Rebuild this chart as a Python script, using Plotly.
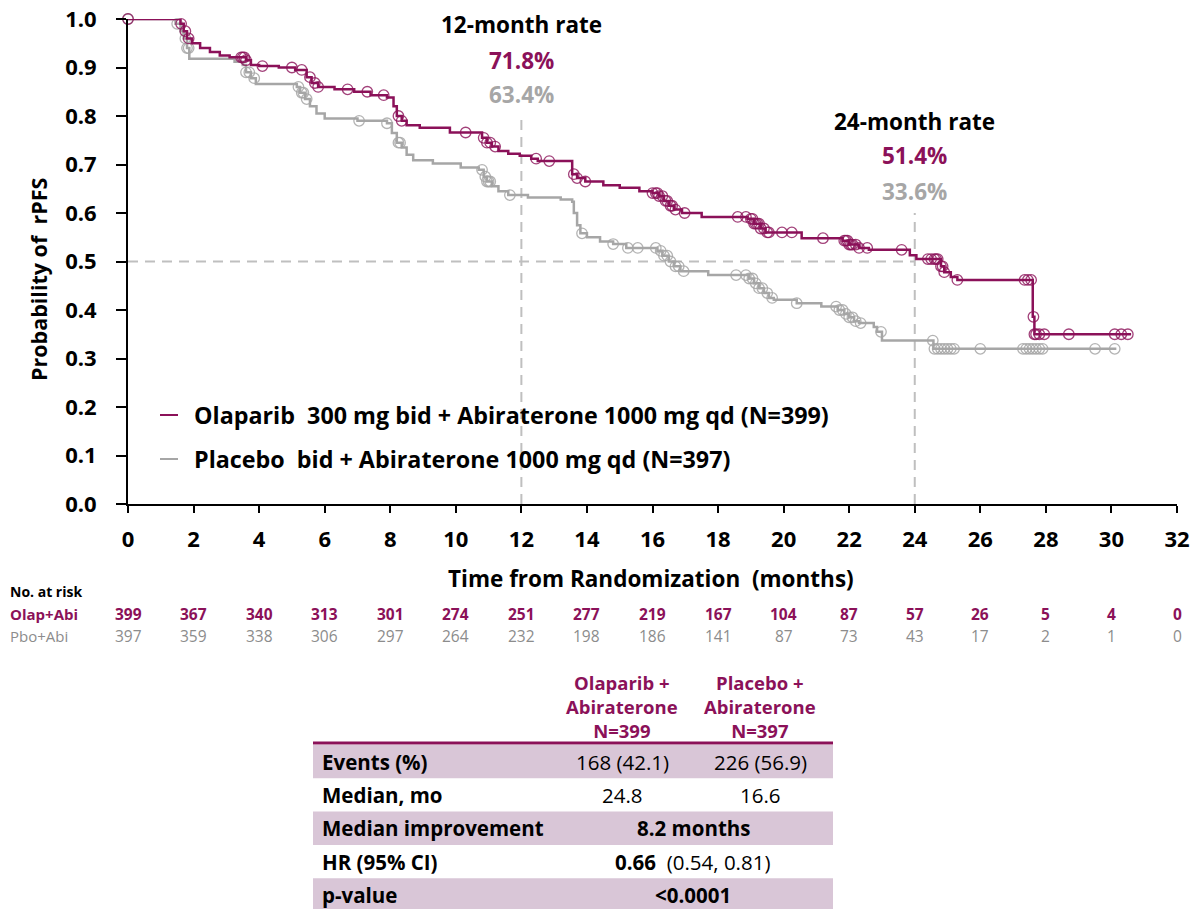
import numpy as np
import plotly.graph_objects as go

PURPLE = "#8B1159"
GRAY = "#A6A6A6"
RISKGRAY = "#8C8C8C"
DASH = "#BFBFBF"
SHADE = "#D9C6D7"
FONT = "Open Sans"
W, H = 1201, 909

# ---------------- Kaplan-Meier data ----------------
ola_t = [0, 1.6, 1.7, 1.8, 1.95, 2.2, 2.5, 2.8, 3.1, 3.6, 3.75, 4.0, 4.6, 5.1, 5.45, 5.6, 5.8,
         6.3, 6.9, 7.4, 7.9, 8.1, 8.2, 8.35, 8.5, 8.9, 9.82, 10.8, 10.95, 11.1, 11.3, 11.6,
         11.95, 12.3, 12.5, 13.55, 13.7, 13.95, 14.5, 15.0, 15.6, 16.0, 16.2, 16.35, 16.5,
         16.65, 16.9, 17.5, 18.9, 19.1, 19.3, 19.45, 20.55, 21.8, 22.0, 22.3, 22.6, 23.85,
         24.05, 24.8, 24.9, 25.1, 25.3, 27.6, 27.65]
ola_s = [1.0, 0.99, 0.975, 0.96, 0.95, 0.94, 0.932, 0.925, 0.921, 0.915, 0.905, 0.903, 0.900,
         0.895, 0.88, 0.868, 0.860, 0.855, 0.850, 0.843, 0.838, 0.82, 0.80, 0.79, 0.781, 0.776,
         0.766, 0.755, 0.745, 0.737, 0.728, 0.722, 0.718, 0.712, 0.707, 0.68, 0.672, 0.665,
         0.657, 0.652, 0.645, 0.641, 0.635, 0.625, 0.615, 0.607, 0.600, 0.592, 0.588, 0.578,
         0.568, 0.560, 0.548, 0.543, 0.535, 0.528, 0.524, 0.513, 0.505, 0.49, 0.478, 0.468,
         0.462, 0.386, 0.35]
ola_end = 30.6
ola_cens = [0, 1.62, 1.75, 1.85, 3.45, 3.5, 3.55, 3.6, 4.1, 5.0, 5.3, 5.55, 5.7, 5.8, 6.7, 7.3,
            7.8, 8.25, 8.35, 10.3, 10.85, 10.95, 11.05, 11.2, 12.45, 12.85, 13.6, 13.7, 13.95,
            16.0, 16.1, 16.15, 16.2, 16.3, 16.4, 16.45, 16.55, 16.6, 16.7, 16.98, 18.6, 18.85,
            19.0, 19.05, 19.1, 19.15, 19.2, 19.25, 19.3, 19.4, 19.5, 19.55, 19.95, 20.25, 21.2,
            21.85, 21.9, 21.95, 22.0, 22.05, 22.1, 22.2, 22.3, 22.55, 23.6, 24.4, 24.5, 24.6,
            24.65, 24.7, 24.8, 24.85, 24.9, 25.3, 27.35, 27.45, 27.55, 27.62, 27.65, 27.7, 27.8,
            27.95, 28.7, 30.1, 30.3, 30.5]

pbo_t = [0, 1.45, 1.6, 1.7, 1.8, 1.87, 3.25, 3.5, 3.6, 3.75, 3.9, 5.15, 5.25, 5.4, 5.55, 5.75,
         6.0, 7.0, 7.9, 8.05, 8.2, 8.35, 8.5, 8.7, 9.3, 10.15, 10.7, 10.85, 10.95, 11.1, 11.3,
         11.6, 12.2, 13.2, 13.55, 13.6, 13.7, 13.8, 14.0, 14.4, 14.8, 15.2, 16.15, 16.3, 16.5,
         16.65, 16.85, 17.7, 18.95, 19.1, 19.25, 19.4, 19.55, 19.7, 20.4, 21.15, 21.65, 21.85,
         22.0, 22.15, 22.3, 22.75, 22.85, 23.0, 24.57]
pbo_s = [1.0, 0.99, 0.975, 0.96, 0.94, 0.918, 0.912, 0.905, 0.89, 0.878, 0.866, 0.86, 0.848,
         0.835, 0.82, 0.805, 0.795, 0.79, 0.785, 0.765, 0.745, 0.735, 0.72, 0.709, 0.702, 0.694,
         0.689, 0.675, 0.665, 0.655, 0.645, 0.637, 0.632, 0.628, 0.623, 0.60, 0.575, 0.558,
         0.55, 0.541, 0.536, 0.528, 0.522, 0.512, 0.50, 0.49, 0.48, 0.472, 0.465, 0.455, 0.445,
         0.435, 0.425, 0.421, 0.414, 0.407, 0.40, 0.392, 0.385, 0.377, 0.373, 0.365, 0.355,
         0.337, 0.32]
pbo_end = 30.15
pbo_cens = [0, 1.5, 1.75, 1.8, 1.85, 3.6, 3.7, 3.85, 5.2, 5.3, 5.35, 5.45, 7.05, 7.9, 8.25, 8.3,
            10.8, 10.9, 10.95, 11.0, 11.05, 11.65, 13.85, 14.8, 15.25, 15.55, 16.1, 16.25,
            16.35, 16.45, 16.55, 16.7, 16.8, 16.95, 18.55, 18.85, 18.95, 19.05, 19.15, 19.25,
            19.35, 19.5, 19.65, 20.4, 21.6, 21.7, 21.8, 21.9, 22.0, 22.1, 22.2, 22.35, 22.97,
            24.55, 24.6, 24.7, 24.8, 24.9, 25.0, 25.1, 25.2, 26.0, 27.3, 27.4, 27.5, 27.6,
            27.7, 27.8, 27.9, 29.5, 30.1]

# reference lines and landmark rates
median_level = 0.5
landmark_times = [12, 24]
landmark_tops = [0.8, 0.6]
landmark_titles = ["12-month rate", "24-month rate"]
ola_rates = ["71.8%", "51.4%"]
pbo_rates = ["63.4%", "33.6%"]

legend_labels = ["Olaparib  300 mg bid + Abiraterone 1000 mg qd (N=399)",
                 "Placebo  bid + Abiraterone 1000 mg qd (N=397)"]

# number at risk
risk_times = list(range(0, 33, 2))
ola_risk = [399, 367, 340, 313, 301, 274, 251, 277, 219, 167, 104, 87, 57, 26, 5, 4, 0]
pbo_risk = [397, 359, 338, 306, 297, 264, 232, 198, 186, 141, 87, 73, 43, 17, 2, 1, 0]

# summary table
tbl_header = ["Olaparib +<br>Abiraterone<br>N=399", "Placebo +<br>Abiraterone<br>N=397"]
tbl_labels = ["Events (%)", "Median, mo", "Median improvement", "HR (95% CI)", "p-value"]
tbl_ola = ["168 (42.1)", "24.8"]
tbl_pbo = ["226 (56.9)", "16.6"]
tbl_merged = ["<b>8.2 months</b>", "<b>0.66</b>  (0.54, 0.81)", "<b>&lt;0.0001</b>"]


def surv_at(times, surv, t):
    idx = np.searchsorted(np.array(times), np.array(t), side="right") - 1
    return np.array(surv)[idx]


def px(x):
    return x / W


def py(y):
    return 1 - y / H


def text(x, y, s, size, color="black", xanchor="center", xref="paper"):
    return dict(x=x, y=py(y), xref=xref, yref="paper", text=s, showarrow=False,
                xanchor=xanchor, yanchor="middle",
                font=dict(size=size, color=color, family=FONT))


fig = go.Figure()

# dashed reference lines
fig.add_trace(go.Scatter(x=[0, landmark_times[1]], y=[median_level, median_level], mode="lines",
                         line=dict(color=DASH, width=2, dash="10px,7px"), hoverinfo="skip",
                         showlegend=False))
for t, top in zip(landmark_times, landmark_tops):
    fig.add_trace(go.Scatter(x=[t, t], y=[0, top], mode="lines",
                             line=dict(color=DASH, width=2, dash="10px,7px"), hoverinfo="skip",
                             showlegend=False))

for times, surv, end, cens, col, rgba in [
    (pbo_t, pbo_s, pbo_end, pbo_cens, GRAY, "rgba(166,166,166,0.85)"),
    (ola_t, ola_s, ola_end, ola_cens, PURPLE, "rgba(139,17,89,0.8)"),
]:
    fig.add_trace(go.Scatter(x=times + [end], y=surv + [surv[-1]], mode="lines",
                             line=dict(color=col, width=2.5, shape="hv"), showlegend=False,
                             cliponaxis=False))
    fig.add_trace(go.Scatter(x=cens, y=surv_at(times, surv, cens), mode="markers",
                             marker=dict(symbol="circle-open", size=10.5, color=rgba,
                                         line=dict(width=1.3, color=rgba)),
                             showlegend=False, cliponaxis=False))

ann = []
# landmark annotations
title_py = [25, 121]
for i, t in enumerate(landmark_times):
    ann.append(text(t, title_py[i], f"<b>{landmark_titles[i]}</b>", 22.5, xref="x"))
    ann.append(text(t, title_py[i] + 35, f"<b>{ola_rates[i]}</b>", 22.5, PURPLE, xref="x"))
    ann.append(text(t, title_py[i] + 70, f"<b>{pbo_rates[i]}</b>", 22.5, GRAY, xref="x"))

# legend (manual)
shapes = []
for lab, col, yy in zip(legend_labels, [PURPLE, GRAY], [415, 459]):
    shapes.append(dict(type="line", xref="paper", yref="paper", x0=px(160), x1=px(178),
                       y0=py(yy), y1=py(yy), line=dict(color=col, width=2)))
    ann.append(text(px(192), yy, f"<b>{lab}</b>", 23.3, xanchor="left"))

# axis titles
ann.append(text(px(651), 578, "<b>Time from Randomization  (months)</b>", 22.5))
ann.append(dict(x=px(38), y=py(280), xref="paper", yref="paper", text="<b>Probability of  rPFS</b>",
                textangle=-90, showarrow=False, xanchor="center", yanchor="middle",
                font=dict(size=21.5, color="black", family=FONT)))

# number at risk
ann.append(text(px(8), 591, "<b>No. at risk</b>", 14, xanchor="left"))
ann.append(text(px(8), 614, "<b>Olap+Abi</b>", 15, PURPLE, xanchor="left"))
ann.append(text(px(8), 636, "Pbo+Abi", 15, RISKGRAY, xanchor="left"))
for t, a, b in zip(risk_times, ola_risk, pbo_risk):
    ann.append(text(t, 614, f"<b>{a}</b>", 15.5, PURPLE, xref="x"))
    ann.append(text(t, 636, f"{b}", 15.5, RISKGRAY, xref="x"))

# summary table
TX0, TX1 = 313, 833
COL1, COL2, COLM = 622, 760, 693
row_top = 745
row_h = 33.3
for c, hdr in zip([COL1, COL2], tbl_header):
    ann.append(text(px(c), 706, f"<b>{hdr}</b>", 18.5, PURPLE))
for i, lab in enumerate(tbl_labels):
    y0 = row_top + i * row_h
    yc = y0 + row_h / 2
    if i % 2 == 0:
        shapes.append(dict(type="rect", xref="paper", yref="paper", x0=px(TX0), x1=px(TX1),
                           y0=py(y0), y1=py(min(y0 + row_h, H)), fillcolor=SHADE,
                           line=dict(width=0), layer="below"))
    ann.append(text(px(TX0 + 7), yc, f"<b>{lab}</b>", 20.5, xanchor="left"))
    if i < 2:
        ann.append(text(px(COL1), yc, tbl_ola[i], 20.5))
        ann.append(text(px(COL2), yc, tbl_pbo[i], 20.5))
    else:
        ann.append(text(px(COLM), yc, tbl_merged[i - 2], 20.5))
shapes.append(dict(type="line", xref="paper", yref="paper", x0=px(TX0), x1=px(TX1),
                   y0=py(743), y1=py(743), line=dict(color=PURPLE, width=3)))

fig.update_layout(
    width=W, height=H, margin=dict(l=0, r=0, t=0, b=0, autoexpand=False),
    plot_bgcolor="white", paper_bgcolor="white",
    annotations=ann, shapes=shapes, showlegend=False,
    font=dict(family=FONT, color="black"),
    xaxis=dict(domain=[px(128), px(1177)], range=[0, 32], tickmode="array",
               tickvals=risk_times, ticktext=[f"<b>{v}</b>" for v in risk_times],
               showline=True, linecolor="black", linewidth=2, ticks="outside", ticklen=7,
               tickwidth=2, tickcolor="black", showgrid=False, zeroline=False, automargin=False,
               tickfont=dict(size=22, color="black", family=FONT), ticklabelstandoff=8),
    yaxis=dict(domain=[py(504), py(19)], range=[0, 1], tickmode="array",
               tickvals=[i / 10 for i in range(11)],
               ticktext=[f"<b>{i / 10:.1f}</b>" for i in range(11)],
               showline=True, linecolor="black", linewidth=2, ticks="outside", ticklen=10,
               tickwidth=2, tickcolor="black", showgrid=False, zeroline=False, automargin=False,
               tickfont=dict(size=22, color="black", family=FONT), ticklabelstandoff=15),
)

fig.write_html("out.html")
